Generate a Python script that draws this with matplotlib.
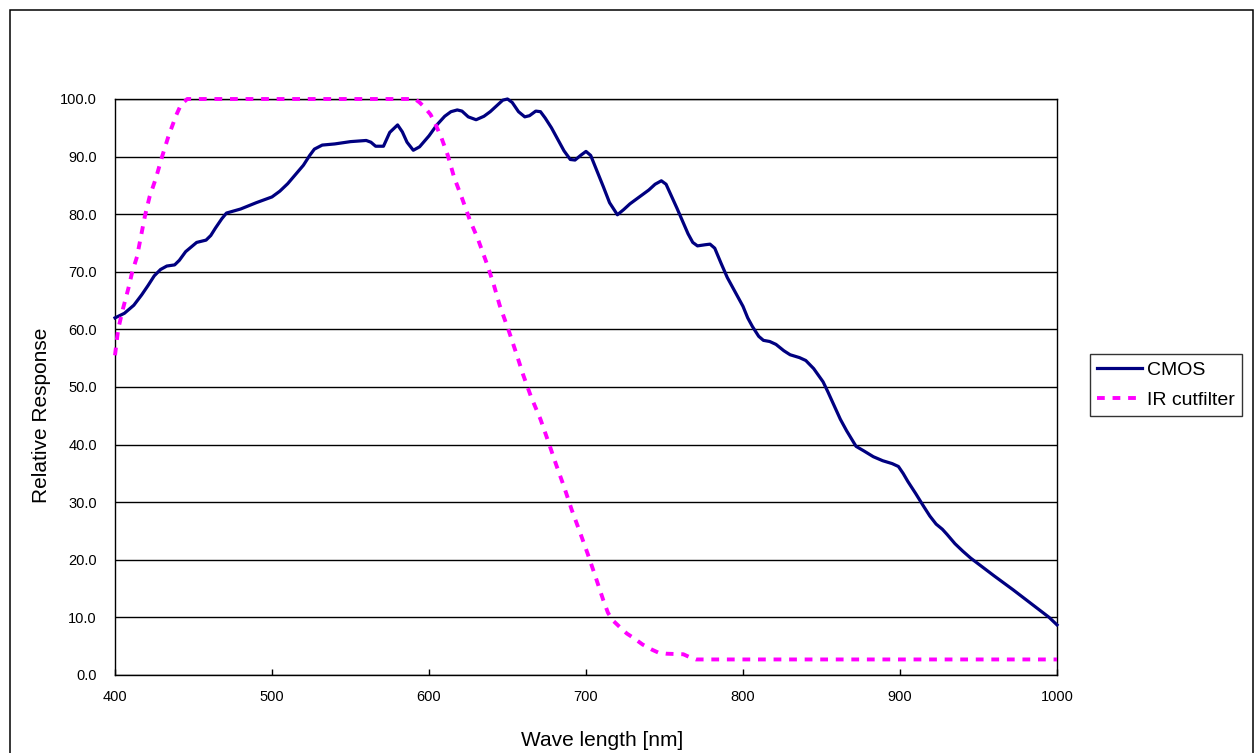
import matplotlib
matplotlib.use("Agg")
import matplotlib.pyplot as plt
from matplotlib.patches import Rectangle
from matplotlib.ticker import FormatStrFormatter

plt.rcParams['font.family'] = ['Liberation Sans', 'DejaVu Sans']

# CMOS 相対感度
cmos_nm = [400, 406, 412, 417, 421, 425, 429, 433, 438, 441, 445, 452, 458, 461, 464, 468,
           471, 476, 480, 490, 500, 505, 510, 515, 520, 524, 527, 532, 540, 550, 560, 563,
           566, 571, 575, 580, 583, 586, 590, 594, 600, 605, 610, 614, 618, 621, 625, 630,
           635, 639, 643, 647, 650, 653, 657, 661, 664, 668, 671, 674, 678, 682, 686, 690,
           693, 697, 700, 703, 707, 711, 715, 720, 724, 728, 734, 740, 744, 748, 751, 755,
           758, 762, 765, 768, 771, 776, 779, 782, 786, 790, 795, 800, 803, 806, 810, 813,
           817, 821, 826, 830, 836, 840, 845, 851, 854, 858, 862, 866, 872, 877, 883, 889,
           895, 899, 902, 905, 910, 915, 919, 923, 927, 930, 935, 940, 945, 960, 972, 985,
           995, 1000]
cmos_val = [62.0, 62.8, 64.2, 66.0, 67.6, 69.3, 70.4, 71.0, 71.2, 72.0, 73.5, 75.1, 75.5, 76.3, 77.6, 79.2,
            80.2, 80.6, 80.9, 82.0, 83.0, 84.0, 85.3, 86.9, 88.5, 90.2, 91.3, 92.0, 92.2, 92.6, 92.8, 92.5,
            91.8, 91.8, 94.2, 95.5, 94.3, 92.5, 91.1, 91.7, 93.6, 95.5, 97.0, 97.8, 98.1, 97.9, 96.9, 96.4,
            97.0, 97.8, 98.8, 99.8, 100.0, 99.4, 97.8, 96.9, 97.1, 97.9, 97.8, 96.7, 95.0, 93.0, 91.0, 89.5,
            89.4, 90.3, 90.9, 90.2, 87.5, 84.8, 82.0, 79.9, 80.8, 81.8, 83.0, 84.2, 85.2, 85.8, 85.2, 82.8,
            81.0, 78.5, 76.6, 75.1, 74.5, 74.7, 74.8, 74.1, 71.5, 69.0, 66.5, 64.0, 62.0, 60.5, 58.8, 58.1,
            57.9, 57.4, 56.3, 55.6, 55.1, 54.6, 53.2, 50.9, 49.2, 46.8, 44.4, 42.4, 39.7, 38.9, 37.9, 37.2,
            36.7, 36.2, 35.0, 33.6, 31.5, 29.3, 27.6, 26.2, 25.3, 24.4, 22.8, 21.5, 20.3, 17.2, 14.8, 12.1,
            10.0, 8.7]

# IR カットフィルタ
ir_nm = [400, 402, 405, 408.5, 411, 414, 419, 422, 426, 430, 434, 439, 442, 446, 591, 594,
         597, 601, 604, 608, 612, 616, 621, 626, 631, 637, 641, 645, 651, 656, 660, 665,
         671, 676, 681, 686, 691, 696, 701, 706, 711, 714, 717, 722, 726, 731, 736, 742,
         746, 751, 762, 766, 770, 1000]
ir_val = [55.5, 60.0, 63.5, 67.1, 70.0, 72.6, 79.6, 83.0, 86.2, 90.0, 93.5, 97.2, 99.0, 100, 100, 99.4,
          98.6, 97.3, 95.7, 93.2, 90.2, 86.4, 82.8, 79.0, 75.8, 71.3, 68.0, 64.2, 59.6, 55.5, 52.1, 48.3,
          44.4, 40.5, 36.5, 32.7, 28.6, 24.9, 21.1, 17.1, 13.0, 10.8, 9.5, 8.2, 7.2, 6.3, 5.3, 4.4,
          3.9, 3.7, 3.6, 3.1, 2.7, 2.7]

fig = plt.figure(figsize=(12.56, 7.53), dpi=100)
ax = fig.add_axes([115/1256, 1 - 675/753, 942/1256, 576/753])

ax.plot(cmos_nm, cmos_val, color='#000080', lw=2.3, label='CMOS',
        solid_joinstyle='round', clip_on=False, zorder=3)
ax.plot(ir_nm, ir_val, color='#FF00FF', lw=2.8, dashes=(2, 2), label='IR cutfilter',
        clip_on=False, zorder=3)

ax.set_xlim(400, 1000)
ax.set_ylim(0, 100)
ax.set_xticks(range(400, 1001, 100))
ax.set_yticks(range(0, 101, 10))
ax.yaxis.set_major_formatter(FormatStrFormatter('%.1f'))
ax.yaxis.grid(True, color='black', lw=1.0)
ax.set_axisbelow(True)
ax.tick_params(axis='x', direction='in', length=4, width=1, pad=11, labelsize=10.5)
ax.tick_params(axis='y', direction='in', length=0, pad=13, labelsize=10.5)
for s in ax.spines.values():
    s.set_linewidth(1.0)

ax.set_xlabel('Wave length [nm]', fontsize=15)
ax.set_ylabel('Relative Response', fontsize=15)
ax.xaxis.set_label_coords(0.517, -0.097)
ax.yaxis.set_label_coords(-0.068, 0.451)

leg = fig.legend(loc='center left', bbox_to_anchor=(1090/1256, 1 - 385/753), fontsize=14,
                 frameon=True, fancybox=False, edgecolor='black', handlelength=2.3,
                 handletextpad=0.3, labelspacing=0.65, borderpad=0.35, borderaxespad=0)
leg.get_frame().set_linewidth(1.0)

fig.add_artist(Rectangle((10/1256, -0.1), 1243/1256, 1.1 - 10/753, transform=fig.transFigure,
                         fill=False, edgecolor='black', lw=1.1))

fig.savefig('out.png', dpi=100)
